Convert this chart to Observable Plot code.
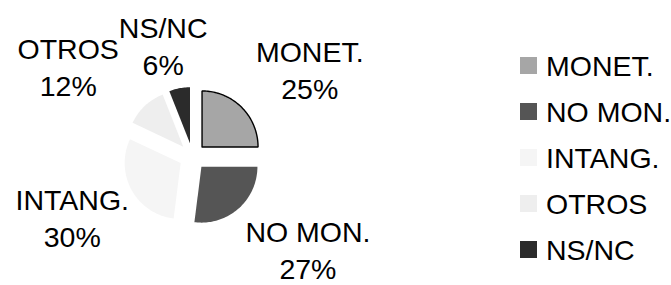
<!DOCTYPE html>
<html><head><meta charset="utf-8">
<script src="https://cdn.jsdelivr.net/npm/d3@7"></script>
<script src="https://cdn.jsdelivr.net/npm/@observablehq/plot@0.6"></script>
<style>
body{margin:0;background:#fff;font-family:"Liberation Sans",Arial,sans-serif}
#wrap{position:relative;width:671px;height:285px;overflow:hidden}
#legend{position:absolute;left:520px;top:42px}
.item{display:flex;align-items:center;height:46px}
.sw{width:17px;height:17px;margin-right:9px;flex:none}
.lab{font-size:28.5px;color:#000;line-height:1;white-space:nowrap;position:relative;top:1px}
</style></head><body>
<div id="wrap"><div id="chart"></div><div id="legend"></div></div>
<script>
const categories = ["MONET.", "NO MON.", "INTANG.", "OTROS", "NS/NC"];
const values = [25, 27, 30, 12, 6];
const palette = ["#a6a6a6", "#555555", "#f5f5f5", "#eeeeee", "#2b2b2b"];

const W = 671, H = 285;
const cx = 192, cy = 156, r = 56, explode = 13.5;
const fontSize = 28.5, lineGap = 37;
const total = d3.sum(values);

const ctx = document.createElement("canvas").getContext("2d");
ctx.font = `${fontSize}px "Liberation Sans"`;

let acc = 0;
const slices = categories.map((cat, i) => {
  const a0 = acc / total * 2 * Math.PI;
  acc += values[i];
  const a1 = acc / total * 2 * Math.PI;
  const am = (a0 + a1) / 2;
  const dx = Math.sin(am), dy = -Math.cos(am);
  const ax = cx + explode * dx, ay = cy + explode * dy;
  const pts = [{cat, x: ax, y: ay}];
  const n = Math.max(4, Math.ceil((a1 - a0) / (Math.PI / 120)));
  for (let k = 0; k <= n; k++) {
    const a = a0 + (a1 - a0) * k / n;
    pts.push({cat, x: ax + r * Math.sin(a), y: ay - r * Math.cos(a)});
  }
  pts.push({cat, x: ax, y: ay});
  return {cat, value: values[i], am, dx, dy, pts};
});

// label placement (outside end, clamped to the chart area and de-overlapped)
const Rx = 112, Ry = 124, capH = fontSize * 0.716, boxH = lineGap + capH, descent = fontSize * 0.22;
const labels = slices.map(s => {
  const w = Math.max(ctx.measureText(s.cat).width, ctx.measureText(s.value + "%").width);
  return {s, w, x: cx + s.dx * (Rx + w / 2), y: cy + s.dy * Ry};
});
for (const L of labels) {
  if (L.x - L.w / 2 < 15) L.x = 15 + L.w / 2;
  if (L.y - boxH / 2 < 15) L.y = 15 + boxH / 2;
  if (L.y + boxH / 2 + descent > H - 2) L.y = H - 2 - descent - boxH / 2;
}
for (let i = 0; i < labels.length; i++) for (let j = 0; j < labels.length; j++) {
  if (i === j) continue;
  const A = labels[i], B = labels[j];
  const ovY = Math.abs(A.y - B.y) < boxH;
  const ovX = (A.w + B.w) / 2 - Math.abs(A.x - B.x);
  if (ovY && ovX > 0 && Math.abs(A.x - cx) > Math.abs(B.x - cx)) {
    A.x += (A.x < cx ? -1 : 1) * ovX;
  }
}
const labelData = labels.map(L => ({x: L.x, y: L.y, text: `${L.s.cat}\n${L.s.value}%`}));

const allPts = slices.flatMap(s => s.pts);
const monet = slices[0].pts;

const chart = Plot.plot({
  width: W, height: H, margin: 0,
  x: {domain: [0, W], range: [0, W], axis: null},
  y: {domain: [0, H], range: [0, H], axis: null},
  color: {domain: categories, range: palette},
  style: {background: "transparent"},
  marks: [
    Plot.line(allPts, {x: "x", y: "y", z: "cat", fill: "cat", stroke: null, curve: "linear"}),
    Plot.line(monet, {x: "x", y: "y", stroke: "#000", strokeWidth: 1.4, strokeLinejoin: "miter", curve: "linear"}),
    Plot.text(labelData, {x: "x", y: "y", text: "text", fontSize, lineHeight: lineGap / fontSize,
      fontFamily: "Liberation Sans", fill: "#000", textAnchor: "middle", lineAnchor: "middle"})
  ]
});
document.getElementById("chart").appendChild(chart);

const leg = document.getElementById("legend");
categories.forEach((c, i) => {
  const it = document.createElement("div");
  it.className = "item";
  it.innerHTML = `<div class="sw" style="background:${palette[i]}"></div><span class="lab">${c}</span>`;
  leg.appendChild(it);
});
</script>
</body></html>
